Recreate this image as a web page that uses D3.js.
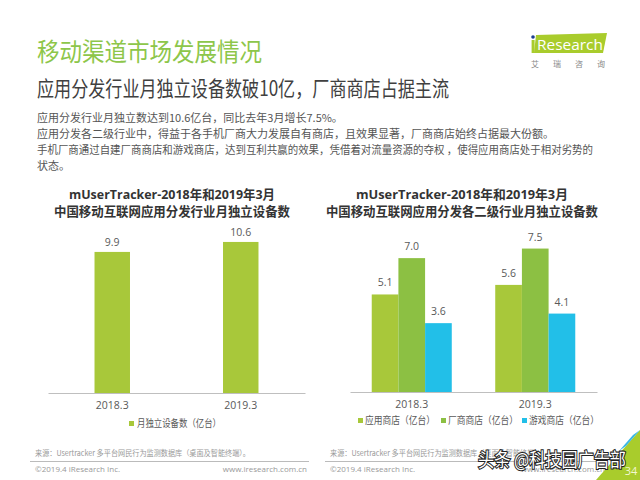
<!DOCTYPE html>
<html>
<head>
<meta charset="utf-8">
<script src="https://cdn.jsdelivr.net/npm/d3@7"></script>
<style>
  html, body { margin: 0; padding: 0; background: #fff; }
  svg { display: block; }
  text { font-family: "Open Sans", "Noto Sans CJK SC", sans-serif; }
  .cjk { font-family: "Noto Sans CJK SC", sans-serif; }
</style>
</head>
<body>
<svg id="chart" width="640" height="480"></svg>
<script>
// data
const periods = ["2018.3", "2019.3"];
const totalDevices = [9.9, 10.6];
const totalLegend = "月独立设备数（亿台）";

const storeTypes = ["应用商店（亿台）", "厂商商店（亿台）", "游戏商店（亿台）"];
const storeValues = [
    [5.1, 7.0, 3.6],
    [5.6, 7.5, 4.1],
];

const bodyLines = [
    "应用分发行业月独立数达到10.6亿台，同比去年3月增长7.5%。",
    "应用分发各二级行业中，得益于各手机厂商大力发展自有商店，且效果显著，厂商商店始终占据最大份额。",
    "手机厂商通过自建厂商商店和游戏商店，达到互利共赢的效果，凭借着对流量资源的夺权 ，使得应用商店处于相对劣势的",
    "状态。",
];

const lime = "#a8c83a";
const storeColors = ["#a8c83a", "#8cc043", "#22bfe8"];

const svg = d3.select("#chart");

// header
svg.append("text")
    .attr("class", "cjk")
    .attr("x", 37).attr("y", 61)
    .attr("font-size", 25)
    .attr("textLength", 225).attr("lengthAdjust", "spacingAndGlyphs")
    .attr("fill", "#8dc64a")
    .text("移动渠道市场发展情况");

svg.append("text")
    .attr("class", "cjk")
    .attr("x", 37).attr("y", 96)
    .attr("font-size", 21)
    .attr("textLength", 412).attr("lengthAdjust", "spacingAndGlyphs")
    .attr("fill", "#404040")
    .text("应用分发行业月独立设备数破10亿，厂商商店占据主流");

// logo
const logo = svg.append("g");
logo.append("path")
    .attr("d", "M536,35 L607,33 L603,53 L534,53 Z")
    .attr("fill", "#a9cc2c");
logo.append("circle").attr("cx", 533).attr("cy", 37).attr("r", 1.8).attr("fill", "#1d3f8f");
logo.append("rect").attr("x", 531.6).attr("y", 40).attr("width", 3).attr("height", 13).attr("fill", "#a9cc2c");
logo.append("text")
    .attr("x", 537).attr("y", 50)
    .attr("font-size", 15)
    .attr("textLength", 66).attr("lengthAdjust", "spacingAndGlyphs")
    .attr("fill", "#fff")
    .text("Research");
["艾", "瑞", "咨", "询"].forEach((c, i) => {
    logo.append("text")
        .attr("class", "cjk")
        .attr("x", 535 + i * 22).attr("y", 67)
        .attr("font-size", 8)
        .attr("text-anchor", "middle")
        .attr("fill", "#888")
        .text(c);
});

// body text
svg.append("g")
    .selectAll("text")
    .data(bodyLines)
    .join("text")
    .attr("class", "cjk")
    .attr("x", 37)
    .attr("y", (d, i) => 122 + i * 16)
    .attr("font-size", 11)
    .attr("fill", "#555")
    .each(function (d, i) {
        if (i === 2) d3.select(this).attr("textLength", 556).attr("lengthAdjust", "spacingAndGlyphs");
    })
    .text((d) => d);

function chartTitle(cx, lines, widths) {
    lines.forEach((t, i) => {
        svg.append("text")
            .attr("x", cx).attr("y", 199 + i * 17)
            .attr("text-anchor", "middle")
            .attr("font-size", 13)
            .attr("font-weight", "bold")
            .attr("fill", "#333")
            .attr("textLength", widths[i]).attr("lengthAdjust", "spacingAndGlyphs")
            .text(t);
    });
}

// left chart
chartTitle(172, ["mUserTracker-2018年和2019年3月", "中国移动互联网应用分发行业月独立设备数"], [206, 236]);

const x1 = d3.scaleBand().domain(periods).range([48, 305]).paddingInner(0.724).paddingOuter(0.362);
const y1 = d3.scaleLinear().domain([0, 12]).range([393, 222]);

const left = svg.append("g");
left.selectAll("rect")
    .data(totalDevices)
    .join("rect")
    .attr("x", (d, i) => x1(periods[i]))
    .attr("y", (d) => y1(d))
    .attr("width", x1.bandwidth())
    .attr("height", (d) => y1(0) - y1(d))
    .attr("fill", lime);
left.selectAll("text.val")
    .data(totalDevices)
    .join("text")
    .attr("class", "val")
    .attr("x", (d, i) => x1(periods[i]) + x1.bandwidth() / 2)
    .attr("y", (d) => y1(d) - 6)
    .attr("text-anchor", "middle")
    .attr("font-size", 10.5)
    .attr("fill", "#595959")
    .text((d) => d.toFixed(1));

const ax1 = svg.append("g")
    .attr("transform", "translate(0,393)")
    .call(d3.axisBottom(x1).tickSize(0).tickPadding(9));
ax1.select(".domain").attr("stroke", "#bfbfbf").attr("stroke-width", 1);
ax1.selectAll("text").attr("font-size", 10.5).attr("fill", "#595959")
    .attr("font-family", "'Open Sans', sans-serif");

const lg1 = svg.append("g").attr("transform", "translate(129,425)");
lg1.append("rect").attr("x", 0).attr("y", -4).attr("width", 5).attr("height", 5).attr("fill", lime);
lg1.append("text").attr("class", "cjk").attr("x", 8).attr("y", 2)
    .attr("font-size", 10).attr("fill", "#595959")
    .attr("textLength", 84).attr("lengthAdjust", "spacingAndGlyphs")
    .text(totalLegend);

// right chart
chartTitle(462, ["mUserTracker-2018年和2019年3月", "中国移动互联网应用分发各二级行业月独立设备数"], [212, 272]);

const x2 = d3.scaleBand().domain(periods).range([350, 597]).paddingInner(0.352).paddingOuter(0.176);
const xs = d3.scaleBand().domain(d3.range(storeTypes.length)).range([0, x2.bandwidth()]);
const y2 = d3.scaleLinear().domain([0, 8]).range([392, 239]);

const groups = svg.append("g")
    .selectAll("g")
    .data(storeValues)
    .join("g")
    .attr("transform", (d, i) => `translate(${x2(periods[i])},0)`);
groups.selectAll("rect")
    .data((d) => d)
    .join("rect")
    .attr("x", (d, j) => xs(j))
    .attr("y", (d) => y2(d))
    .attr("width", xs.bandwidth())
    .attr("height", (d) => y2(0) - y2(d))
    .attr("fill", (d, j) => storeColors[j]);
groups.selectAll("text")
    .data((d) => d)
    .join("text")
    .attr("x", (d, j) => xs(j) + xs.bandwidth() / 2)
    .attr("y", (d) => y2(d) - 8)
    .attr("text-anchor", "middle")
    .attr("font-size", 10.5)
    .attr("fill", "#595959")
    .text((d) => d.toFixed(1));

const ax2 = svg.append("g")
    .attr("transform", "translate(0,392)")
    .call(d3.axisBottom(x2).tickSize(0).tickPadding(9));
ax2.select(".domain").attr("stroke", "#bfbfbf").attr("stroke-width", 1);
ax2.selectAll("text").attr("font-size", 10.5).attr("fill", "#595959")
    .attr("font-family", "'Open Sans', sans-serif");

const legendX = [358, 441, 522];
const lg2 = svg.append("g")
    .selectAll("g")
    .data(storeTypes)
    .join("g")
    .attr("transform", (d, i) => `translate(${legendX[i]},422)`);
lg2.append("rect").attr("x", 0).attr("y", -4).attr("width", 5).attr("height", 5)
    .attr("fill", (d, i) => storeColors[i]);
lg2.append("text").attr("class", "cjk").attr("x", 7).attr("y", 2)
    .attr("font-size", 10).attr("fill", "#595959")
    .attr("textLength", 70).attr("lengthAdjust", "spacingAndGlyphs")
    .text((d) => d);

// footers
const source = "来源：Usertracker 多平台网民行为监测数据库（桌面及智能终端）。";
[[35, 309], [330, 607]].forEach(([x0, x9]) => {
    svg.append("text").attr("class", "cjk").attr("x", x0).attr("y", 456)
        .attr("font-size", 7.5).attr("fill", "#999")
        .attr("textLength", 215).attr("lengthAdjust", "spacingAndGlyphs")
        .text(source);
    svg.append("line").attr("x1", x0 - 5).attr("x2", x9).attr("y1", 461.5).attr("y2", 461.5)
        .attr("stroke", "#bbb").attr("stroke-width", 1);
    svg.append("text").attr("x", x0).attr("y", 472)
        .attr("font-size", 8).attr("fill", "#999")
        .text("©2019.4 iResearch Inc.");
    svg.append("text").attr("x", x9 - 2).attr("y", 472)
        .attr("text-anchor", "end")
        .attr("font-size", 8).attr("fill", "#999")
        .text("www.iresearch.com.cn");
});

// page corner
svg.append("path").attr("d", "M640,430 L640,480 L596,480 Z").attr("fill", "#a9cc2c");
svg.append("path").attr("d", "M640,430 L633,435 L619,451 L626,446 Z").attr("fill", "#3bb7e3");
svg.append("text").attr("x", 631).attr("y", 475).attr("text-anchor", "middle")
    .attr("font-size", 11).attr("fill", "#f3f7d0").text("34");

// watermark
svg.append("text")
    .attr("class", "cjk")
    .attr("x", 478).attr("y", 467)
    .attr("font-size", 19)
    .attr("textLength", 148).attr("lengthAdjust", "spacingAndGlyphs")
    .attr("fill", "#fff")
    .attr("stroke", "#222").attr("stroke-width", 2.2)
    .attr("paint-order", "stroke")
    .text("头条 @科技园广告部");
</script>
</body>
</html>
